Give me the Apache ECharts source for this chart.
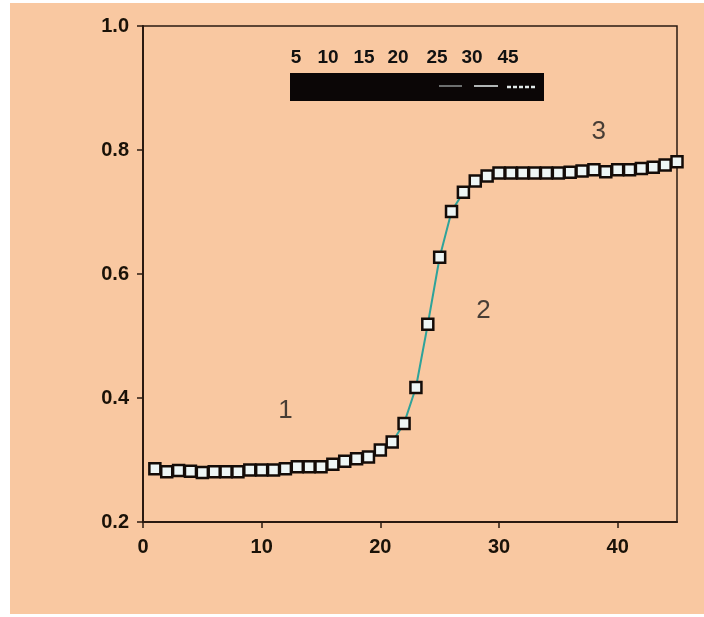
<!DOCTYPE html>
<html>
<head>
<meta charset="utf-8">
<script src="https://cdn.jsdelivr.net/npm/echarts@6/dist/echarts.min.js"></script>
<style>html,body{margin:0;padding:0;background:#fff}#c{width:704px;height:617px}</style>
</head>
<body>
<div id="c"></div>
<script>
var xValues = [1,2,3,4,5,6,7,8,9,10,11,12,13,14,15,16,17,18,19,20,21,22,23,24,25,26,27,28,29,30,31,32,33,34,35,36,37,38,39,40,41,42,43,44,45];
var yValues = [0.286,0.281,0.283,0.282,0.280,0.281,0.281,0.281,0.284,0.284,0.284,0.286,0.289,0.289,0.289,0.293,0.298,0.302,0.305,0.316,0.329,0.359,0.417,0.519,0.627,0.701,0.732,0.750,0.758,0.763,0.763,0.763,0.763,0.763,0.763,0.764,0.766,0.768,0.765,0.768,0.768,0.770,0.772,0.776,0.781];
var xTickLabels = [0,10,20,30,40];
var yTickLabels = [0.2,0.4,0.6,0.8,1.0];
var legendLabels = ['5','10','15','20','25','30','45'];
var annotations = [['1',12,0.38],['2',28.7,0.54],['3',38.4,0.83]];

var chart = echarts.init(document.getElementById('c'), null, {renderer:'canvas'});
var axisFont = {fontFamily:'"Liberation Sans",Arial,sans-serif', fontWeight:'bold', fontSize:20, color:'#1a1208'};
var data = xValues.map(function(x,i){return [x,yValues[i]];});
var legendX = [296,328,364,398,437,472,508];

var graphics = [
  {type:'rect', z:-10, shape:{x:10,y:3,width:694,height:611}, style:{fill:'#F9C8A1'}},
  {type:'rect', z:5, shape:{x:290,y:73,width:254,height:28}, style:{fill:'#0b0606'}},
  {type:'line', z:6, shape:{x1:439,y1:86,x2:462,y2:86}, style:{stroke:'#cfd8d8',lineWidth:1}},
  {type:'line', z:6, shape:{x1:474,y1:86,x2:498,y2:86}, style:{stroke:'#e8f0f0',lineWidth:1.5}},
  {type:'line', z:6, shape:{x1:507,y1:87,x2:537,y2:87}, style:{stroke:'#e0e8e8',lineWidth:2.5, lineDash:[4,2]}}
];
legendLabels.forEach(function(t,i){
  graphics.push({type:'text', z:6, x:legendX[i], y:58, style:{text:t, textAlign:'center', textVerticalAlign:'middle', font:'bold 19px "Liberation Sans",Arial,sans-serif', fill:'#111'}});
});

chart.setOption({
  backgroundColor:'#ffffff',
  animation:false,
  graphic: graphics,
  grid:{left:143, right:27, top:26, bottom:95, show:true, borderColor:'#2a1a10', borderWidth:1.5, backgroundColor:'transparent'},
  xAxis:{type:'value', min:0, max:45, interval:10,
    axisLine:{show:true, onZero:false, lineStyle:{color:'#2a1a10', width:2}},
    axisTick:{show:true, length:6, customValues:xTickLabels, lineStyle:{color:'#2a1a10', width:1.5}},
    axisLabel:Object.assign({margin:15, customValues:xTickLabels, formatter:function(v){return String(v);}}, axisFont),
    splitLine:{show:false}},
  yAxis:{type:'value', min:0.2, max:1.0, interval:0.2,
    axisLine:{show:true, onZero:false, lineStyle:{color:'#2a1a10', width:2}},
    axisTick:{show:true, length:6, lineStyle:{color:'#2a1a10', width:1.5}},
    axisLabel:Object.assign({margin:14, formatter:function(v){return v.toFixed(1);}}, axisFont),
    splitLine:{show:false}},
  series:[
    {type:'line', data:data, symbol:'rect', symbolSize:11,
      lineStyle:{color:'#2ea39a', width:2},
      itemStyle:{color:'#eef6f5', borderColor:'#140c08', borderWidth:2.5},
      z:3},
    {type:'scatter', data:annotations.map(function(a){return [a[1],a[2],a[0]];}), symbolSize:0,
      label:{show:true, position:'inside', formatter:function(p){return p.data[2];}, fontFamily:'"Liberation Sans",Arial,sans-serif', fontSize:26, color:'#1a1a1a'},
      z:4}
  ]
});
</script>
</body>
</html>
